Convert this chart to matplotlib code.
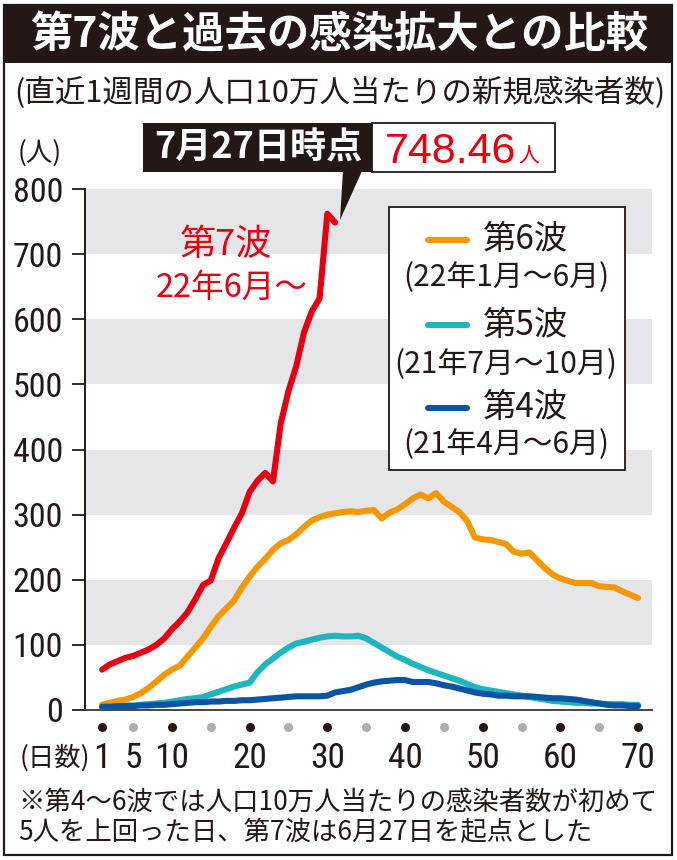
import os
import matplotlib
matplotlib.use('Agg')
import matplotlib.pyplot as plt
from matplotlib import font_manager as fm
from matplotlib.font_manager import FontProperties
from matplotlib.patches import Rectangle, Polygon
from matplotlib.lines import Line2D

W, H = 677, 860

# ---------------- data ----------------
days7 = list(range(1, 32))
wave7 = [62, 70, 75, 80, 83, 88, 93, 100, 110, 124, 136, 150, 170, 192, 199,
         233, 256, 280, 302, 335, 352, 364, 351, 440, 490, 528, 580, 612, 632,
         762, 748.46]

days = list(range(1, 71))
wave6 = [8, 11, 14, 16, 20, 26, 34, 44, 54, 62, 68, 82, 96, 110, 128, 144, 156,
         168, 188, 205, 220, 232, 246, 256, 261, 270, 281, 291, 296, 300, 302,
         304, 305, 304, 306, 307, 294, 303, 308, 316, 325, 331, 325, 333, 320,
         312, 304, 290, 265, 262, 261, 258, 255, 243, 240, 242, 230, 218, 208,
         202, 198, 195, 195, 195, 190, 189, 188, 182, 177, 172]
wave5 = [5, 6, 6, 7, 7, 8, 9, 10, 11, 13, 15, 17, 18, 20, 24, 28, 32, 36, 39,
         42, 58, 70, 79, 88, 96, 102, 105, 108, 111, 113, 114, 113, 113, 114,
         110, 103, 96, 89, 82, 77, 71, 66, 61, 57, 53, 49, 45, 40, 35, 32, 30,
         28, 26, 24, 22, 20, 18, 16, 14, 13, 12, 11, 11, 10, 10, 9, 9, 9, 8, 8]
wave4 = [5, 5, 6, 6, 6, 7, 7, 8, 8, 9, 10, 11, 12, 12, 13, 13, 14, 14, 15, 15,
         16, 17, 18, 19, 20, 21, 21, 21, 21, 22, 27, 29, 31, 35, 39, 42, 44, 45,
         46, 46, 43, 43, 43, 41, 38, 36, 33, 30, 27, 25, 24, 22, 22, 21, 21, 21,
         20, 19, 18, 18, 17, 16, 14, 12, 10, 8, 7, 7, 6, 6]

yticks = [0, 100, 200, 300, 400, 500, 600, 700, 800]
grey_bands = [(100, 200), (300, 400), (500, 600), (700, 800)]
xtick_days = [1, 5, 10, 20, 30, 40, 50, 60, 70]
dots_black = [1, 10, 20, 30, 40, 50, 60, 70]
dots_grey = [5, 15, 25, 35, 45, 55, 65]

title = '第7波と過去の感染拡大との比較'
subtitle = '(直近1週間の人口10万人当たりの新規感染者数)'
unit = '(人)'
callout_label = '7月27日時点'
callout_value = '748.46'
callout_unit = '人'
w7_label1 = '第7波'
w7_label2 = '22年6月〜'
legend_items = [('第6波', '(22年1月〜6月)'),
                ('第5波', '(21年7月〜10月)'),
                ('第4波', '(21年4月〜6月)')]
xlabel = '(日数)'
note1 = '※第4〜6波では人口10万人当たりの感染者数が初めて'
note2 = '5人を上回った日、第7波は6月27日を起点とした'

# ---------------- style ----------------
BLACK = '#231815'
RED = '#e50012'
ORANGE = '#f39800'
CYAN = '#1db5bf'
BLUE = '#0a55a3'
GREY_BAND = '#e6e6e8'
DOT_GREY = '#aeaeae'

CJK = 'Noto Sans CJK JP'
plt.rcParams['font.family'] = [CJK, 'DejaVu Sans']

entries = fm.fontManager.ttflist
def find_file(frags):
    for fr in frags:
        for e in entries:
            if fr.lower() in os.path.basename(e.fname).lower():
                return e.fname
    return None

cond_file = find_file(['RobotoCondensed-Regular', 'Roboto_Condensed-Regular',
                       'LiberationSansNarrow-Regular', 'NotoSans-Condensed.',
                       'NotoSans-CondensedRegular', 'DejaVuSansCondensed.'])
xcond_file = find_file(['NotoSans-ExtraCondensed.', 'NotoSans-ExtraCondensedRegular',
                        'NotoSans-ExtraCondensed-Regular'])

def cfp(size, fname=None):
    f = fname or cond_file
    if f:
        return FontProperties(fname=f, size=size)
    return FontProperties(family='Liberation Sans', size=size)

fig = plt.figure(figsize=(W / 100, H / 100), dpi=100)

def fx(x):
    return x / W

def fy(y):
    return 1 - y / H

# outer frame and title band
fig.add_artist(Rectangle((fx(4), fy(855)), (672 - 4) / W, (855 - 5) / H,
                         transform=fig.transFigure, fill=False, lw=1.6,
                         ec=BLACK, zorder=0))
fig.add_artist(Rectangle((fx(4), fy(63)), (672 - 4) / W, (63 - 5) / H,
                         transform=fig.transFigure, fc=BLACK, ec=BLACK,
                         lw=0, zorder=1))
fig.text(fx(339), fy(35), title, color='white', fontsize=30.5,
         fontweight='bold', ha='center', va='center')
fig.text(fx(340), fy(93), subtitle, color=BLACK, fontsize=22,
         ha='center', va='center')
fig.text(fx(18), fy(153), unit, color=BLACK, fontsize=19,
         ha='left', va='center')

# ---------------- axes ----------------
ax = fig.add_axes([fx(85), fy(710), (652 - 85) / W, (710 - 189) / H])
ax.set_xlim(-1.2, 71.8)
ax.set_ylim(0, 800)
for lo, hi in grey_bands:
    ax.axhspan(lo, hi, color=GREY_BAND, lw=0, zorder=0)

ax.spines['top'].set_visible(False)
ax.spines['right'].set_visible(False)
ax.spines['left'].set_linewidth(1.4)
ax.spines['left'].set_color(BLACK)
ax.spines['bottom'].set_linewidth(1.4)
ax.spines['bottom'].set_color('#444444')

ax.set_yticks(yticks)
ax.set_yticklabels([str(v) for v in yticks])
ax.tick_params(axis='y', direction='out', length=9.4, width=1.3,
               color=BLACK, pad=6.5, labelcolor=BLACK)
for lbl in ax.get_yticklabels():
    lbl.set_fontproperties(cfp(24.5))
ax.set_xticks([])

lkw = dict(lw=4.4, solid_joinstyle='round', solid_capstyle='round',
           clip_on=False)
ax.plot(days, wave5, color=CYAN, zorder=3, **lkw)
ax.plot(days, wave6, color=ORANGE, zorder=4, **lkw)
ax.plot(days, wave4, color=BLUE, zorder=5, **lkw)
ax.plot(days7, wave7, color=RED, zorder=6, **lkw)

xt = ax.get_xaxis_transform()
dot_y = -(727 - 710) / (710 - 189)
ax.plot(dots_black, [dot_y] * len(dots_black), 'o', color=BLACK, ms=6.5,
        mec='none', transform=xt, clip_on=False)
ax.plot(dots_grey, [dot_y] * len(dots_grey), 'o', color=DOT_GREY, ms=6.5,
        mec='none', transform=xt, clip_on=False)
lab_y = -(758 - 710) / (710 - 189)
xfp = cfp(27, xcond_file) if xcond_file else cfp(25.5)
for d in xtick_days:
    ax.text(d, lab_y, str(d), transform=xt, ha='center', va='center',
            color=BLACK, fontproperties=xfp)
fig.text(fx(20), fy(758), xlabel, color=BLACK, fontsize=19,
         ha='left', va='center')

# wave 7 label
fig.text(fx(226), fy(245), w7_label1, color=RED, fontsize=26,
         ha='center', va='center')
fig.text(fx(232), fy(288), w7_label2, color=RED, fontsize=23.5,
         ha='center', va='center')

# callout
fig.add_artist(Rectangle((fx(143), fy(172)), (372 - 143) / W, (172 - 123) / H,
                         transform=fig.transFigure, fc=BLACK, lw=0, zorder=7))
fig.add_artist(Rectangle((fx(372), fy(172)), (555 - 372) / W, (172 - 123) / H,
                         transform=fig.transFigure, fc='white', ec=BLACK,
                         lw=1.3, zorder=7))
fig.add_artist(Polygon([(fx(343), fy(171)), (fx(362), fy(171)),
                        (fx(340), fy(220))], closed=True,
                       transform=fig.transFigure, fc=BLACK, lw=0, zorder=7))
fig.text(fx(258), fy(148), callout_label, color='white', fontsize=26,
         fontweight='bold', ha='center', va='center', zorder=8)
val_txt = fig.text(fx(385), fy(163), callout_value, color=RED, fontsize=31,
                   family='Liberation Sans', ha='left', va='baseline', zorder=8)
renderer = fig.canvas.get_renderer()
bb = val_txt.get_window_extent(renderer=renderer)
fig.text(bb.x1 / W + 2 / W, fy(163), callout_unit, color=RED, fontsize=15,
         ha='left', va='baseline', zorder=8)

# legend
fig.add_artist(Rectangle((fx(389), fy(470)), (625 - 389) / W, (470 - 207) / H,
                         transform=fig.transFigure, fc='white', ec=BLACK,
                         lw=1.3, zorder=7))
leg_rows = [(240, 278, ORANGE), (325, 365, CYAN), (408, 445, BLUE)]
for (name, period), (y1, y2, col) in zip(legend_items, leg_rows):
    fig.add_artist(Line2D([fx(428), fx(467)], [fy(y1), fy(y1)],
                          transform=fig.transFigure, color=col, lw=4.3,
                          solid_capstyle='round', zorder=8))
    fig.text(fx(483), fy(y1), name, color=BLACK, fontsize=24,
             ha='left', va='center', zorder=8)
    fig.text(fx(506), fy(y2), period, color=BLACK, fontsize=21.5,
             ha='center', va='center', zorder=8)

# footnote
fig.text(fx(18), fy(802), note1, color=BLACK, fontsize=19,
         ha='left', va='center')
fig.text(fx(18), fy(833), note2, color=BLACK, fontsize=19,
         ha='left', va='center')

fig.savefig('out.png', dpi=100)
